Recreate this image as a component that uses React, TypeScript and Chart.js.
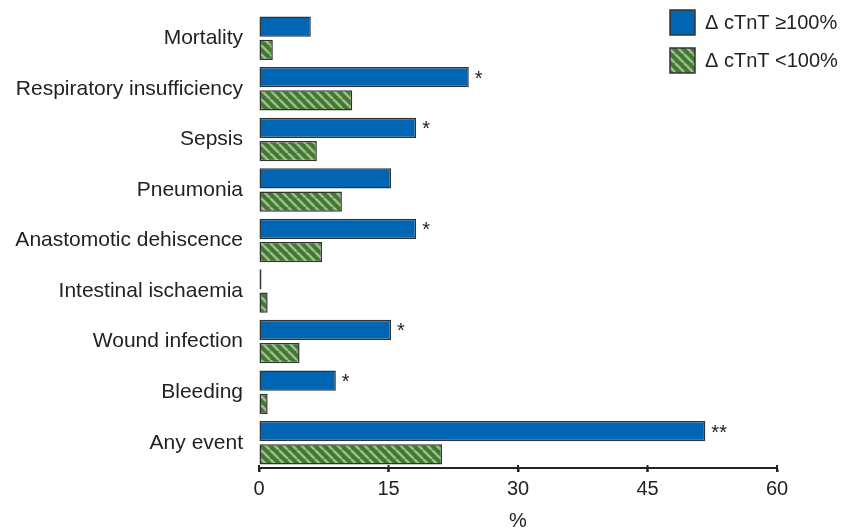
import React, { useEffect, useRef } from "react";
import { Chart, registerables } from "chart.js";

Chart.register(...registerables);

const categories = [
  "Mortality",
  "Respiratory insufficiency",
  "Sepsis",
  "Pneumonia",
  "Anastomotic dehiscence",
  "Intestinal ischaemia",
  "Wound infection",
  "Bleeding",
  "Any event",
];

const highRise = [6.0, 24.3, 18.2, 15.3, 18.2, 0, 15.3, 8.9, 51.7];
const lowRise = [1.6, 10.8, 6.7, 9.6, 7.3, 1.0, 4.7, 1.0, 21.2];
const significance = ["", "*", "*", "", "*", "", "*", "*", "**"];

const xTicks = [0, 15, 30, 45, 60];
const seriesLabels = ["\u0394 cTnT \u2265100%", "\u0394 cTnT <100%"];

const FONT = "'Liberation Sans', Arial, Helvetica, sans-serif";
const BLUE = "#0066b3";
const GREEN = "#3e7a2f";
const STRIPE = "#a2ba8f";
const EDGE = "#333333";
const INK = "#222222";

function makeHatch(): CanvasPattern | string {
  const s = 9;
  const c = document.createElement("canvas");
  c.width = s;
  c.height = s;
  const g = c.getContext("2d");
  if (!g) return GREEN;
  g.fillStyle = GREEN;
  g.fillRect(0, 0, s, s);
  g.strokeStyle = STRIPE;
  g.lineWidth = 2.6;
  for (let k = -1; k <= 1; k++) {
    g.beginPath();
    g.moveTo(k * s, 0);
    g.lineTo(k * s + s, s);
    g.stroke();
  }
  const p = g.createPattern(c, "repeat");
  return p || GREEN;
}

export default function App() {
  const ref = useRef<HTMLCanvasElement | null>(null);

  useEffect(() => {
    if (!ref.current) return;
    const hatch = makeHatch();

    // asterisks after the bars of the first series
    const starPlugin = {
      id: "stars",
      afterDatasetsDraw(chart: any) {
        const ctx = chart.ctx;
        const meta = chart.getDatasetMeta(0);
        ctx.save();
        ctx.font = `20px ${FONT}`;
        ctx.fillStyle = INK;
        ctx.textBaseline = "middle";
        ctx.textAlign = "left";
        meta.data.forEach((bar: any, i: number) => {
          const mark = significance[i];
          if (!mark) return;
          ctx.fillText(mark, bar.x + 6, bar.y + 2);
        });
        ctx.restore();
      },
    };

    // tick marks crossing the x axis line
    const tickPlugin = {
      id: "crossTicks",
      afterDraw(chart: any) {
        const ctx = chart.ctx;
        const xs = chart.scales.x;
        const y0 = chart.chartArea.bottom;
        ctx.save();
        ctx.strokeStyle = INK;
        ctx.lineWidth = 2;
        xTicks.forEach((v) => {
          const px = xs.getPixelForValue(v);
          ctx.beginPath();
          ctx.moveTo(px, y0 - 3);
          ctx.lineTo(px, y0 + 4);
          ctx.stroke();
        });
        ctx.restore();
      },
    };

    // legend boxes in the upper right corner
    const legendPlugin = {
      id: "cornerLegend",
      afterDraw(chart: any) {
        const ctx = chart.ctx;
        ctx.save();
        ctx.font = `20px ${FONT}`;
        ctx.textBaseline = "middle";
        ctx.textAlign = "left";
        chart.data.datasets.forEach((ds: any, i: number) => {
          const x = 670;
          const y = 10 + i * 38;
          ctx.fillStyle = ds.backgroundColor;
          ctx.fillRect(x, y, 25, 25);
          ctx.strokeStyle = EDGE;
          ctx.lineWidth = 1.5;
          ctx.strokeRect(x, y, 25, 25);
          ctx.fillStyle = INK;
          ctx.fillText(ds.label, x + 35, y + 13);
        });
        ctx.restore();
      },
    };

    const chart = new Chart(ref.current, {
      type: "bar",
      data: {
        labels: categories,
        datasets: [
          {
            label: seriesLabels[0],
            data: highRise,
            backgroundColor: BLUE,
            borderColor: EDGE,
            borderWidth: 1.5,
            borderSkipped: false,
            minBarLength: 2.5,
            categoryPercentage: 0.92,
            barPercentage: 0.87,
          },
          {
            label: seriesLabels[1],
            data: lowRise,
            backgroundColor: hatch as any,
            borderColor: EDGE,
            borderWidth: 1.5,
            borderSkipped: false,
            categoryPercentage: 0.92,
            barPercentage: 0.87,
          },
        ],
      },
      options: {
        indexAxis: "y",
        animation: false,
        responsive: false,
        maintainAspectRatio: false,
        layout: { padding: { left: 0, top: 13, right: 69, bottom: 0 } },
        plugins: {
          legend: { display: false },
          tooltip: { enabled: false },
        },
        scales: {
          y: {
            grid: { display: false },
            border: { display: false },
            ticks: {
              padding: 8,
              color: INK,
              font: { family: FONT, size: 21 },
            },
            afterFit(s: any) {
              s.width = 259;
              s.paddingTop = 0;
              s.paddingBottom = 0;
            },
          },
          x: {
            min: 0,
            max: 60,
            position: "bottom",
            afterBuildTicks(s: any) {
              s.ticks = xTicks.map((v) => ({ value: v }));
            },
            grid: {
              display: true,
              drawOnChartArea: false,
              drawTicks: true,
              tickLength: 4,
              tickWidth: 2,
              tickColor: INK,
            },
            border: { display: true, color: INK, width: 2 },
            ticks: {
              padding: 5,
              color: INK,
              font: { family: FONT, size: 20 },
              maxRotation: 0,
            },
            title: {
              display: true,
              text: "%",
              color: INK,
              font: { family: FONT, size: 20 },
              padding: { top: 9, bottom: -4 },
            },
            afterFit(s: any) {
              s.height = 61;
            },
          },
        },
      },
      plugins: [starPlugin, tickPlugin, legendPlugin],
    });

    return () => chart.destroy();
  }, []);

  return (
    <div style={{ position: "fixed", left: 0, top: 0, width: 846, height: 529, background: "#fff" }}>
      <canvas ref={ref} width={846} height={529} style={{ width: 846, height: 529 }} />
    </div>
  );
}
